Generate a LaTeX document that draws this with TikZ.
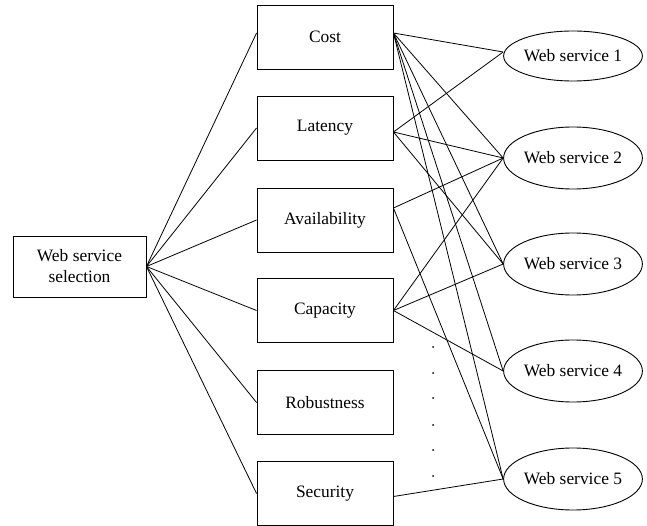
\documentclass[tikz,border=0pt]{standalone}
\usepackage{fontspec}
\setmainfont{Liberation Serif}
\usetikzlibrary{shapes.geometric,calc}
\begin{document}
\begin{tikzpicture}[x=1pt,y=-1pt,
  txt/.style={font=\fontsize{17.4}{21}\selectfont},
  box/.style={draw,line width=0.9pt,minimum width=136pt,minimum height=64pt,inner sep=0pt,txt},
  ws/.style={draw,ellipse,line width=0.9pt,minimum width=131pt,minimum height=62pt,inner sep=0pt,txt},
  link/.style={line width=0.8pt},
  vdot/.style={fill,circle,inner sep=0pt,minimum size=2pt}]
\useasboundingbox (0,0) rectangle (647,526);
% nodes
\node[box,minimum width=133pt,minimum height=61pt,align=center] (root) at (79.5,266.5) {Web service\\selection};
\node[box] (cost) at (325,37) {Cost};
\node[box] (lat) at (325,128) {Latency};
\node[box] (avail) at (325,220) {Availability};
\node[box] (cap) at (325,310.5) {Capacity};
\node[box] (rob) at (325,402.5) {Robustness};
\node[box] (sec) at (325,493.5) {Security};
\node[ws,minimum height=50pt] (w1) at (573,56) {Web service 1};
\node[ws] (w2) at (573,158) {Web service 2};
\node[ws] (w3) at (573,264) {Web service 3};
\node[ws] (w4) at (573,371) {Web service 4};
\node[ws] (w5) at (573,479) {Web service 5};
% dots
\foreach \yy [count=\i] in {347,373,398,425,450,476} \node[vdot] (d\i) at (433,\yy) {};
% root links
\draw[link] (root.east) -- ([yshift=4pt]cost.west);
\foreach \m in {lat,avail,cap,rob,sec} \draw[link] (root.east) -- (\m.west);
% cost links
\draw[link] ([yshift=4pt]cost.east) -- ([yshift=4pt]w1.west);
\foreach \w in {w2,w3,w4,w5} \draw[link] ([yshift=4pt]cost.east) -- (\w.west);
% latency links
\draw[link] ([yshift=-4pt]lat.east) -- ([yshift=4pt]w1.west);
\foreach \w in {w2,w3} \draw[link] ([yshift=-4pt]lat.east) -- (\w.west);
% availability links
\foreach \w in {w2,w5} \draw[link] ([yshift=12pt]avail.east) -- (\w.west);
% capacity links
\foreach \w in {w2,w3,w4} \draw[link] (cap.east) -- (\w.west);
% security link
\draw[link] ([yshift=-3pt]sec.east) -- (w5.west);
\end{tikzpicture}
\end{document}
